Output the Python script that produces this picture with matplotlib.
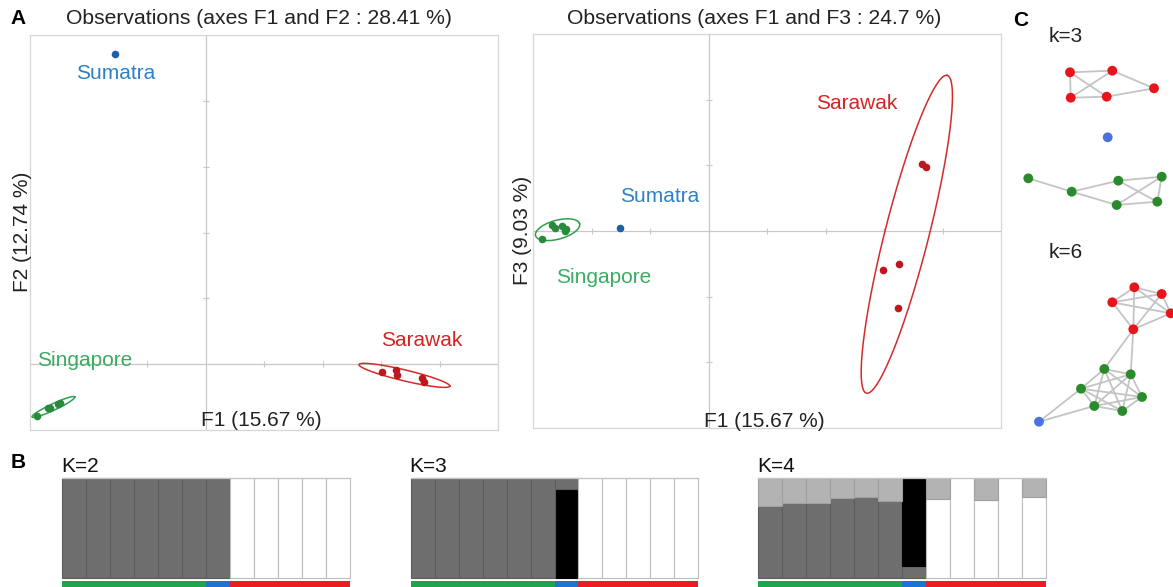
import numpy as np
import matplotlib
matplotlib.use("Agg")
import matplotlib.pyplot as plt

plt.rcParams['font.family'] = ['Liberation Sans', 'DejaVu Sans']

W, H = 1173, 587

# ---------------- DATA ----------------
# PCA panel 1 (F1 vs F2)
p1_sing_x = [-2.88, -2.69, -2.66, -2.52, -2.49]
p1_sing_y = [-0.79, -0.67, -0.66, -0.61, -0.59]
p1_sum_x = [-1.55]
p1_sum_y = [4.71]
p1_sar_x = [3.02, 3.26, 3.27, 3.70, 3.74]
p1_sar_y = [-0.12, -0.09, -0.17, -0.21, -0.27]
# ellipses: centre, conjugate semi-axis vectors (data units)
p1_sing_ell = dict(c=(-2.60, -0.65), a=(0.365, 0.152), b=(0.022, -0.045))
p1_sar_ell = dict(c=(3.40, -0.17), a=(0.776, -0.164), b=(-0.022, -0.081))

# PCA panel 2 (F1 vs F3)
p2_sing_x = [-2.84, -2.67, -2.62, -2.50, -2.46, -2.44]
p2_sing_y = [-0.12, 0.09, 0.05, 0.08, 0.00, 0.03]
p2_sum_x = [-1.51]
p2_sum_y = [0.04]
p2_sar_x = [3.65, 3.72, 2.99, 3.26, 3.24]
p2_sar_y = [1.02, 0.97, -0.59, -0.50, -1.17]
p2_sing_ell = dict(c=(-2.58, 0.02), a=(0.376, 0.091), b=(0.043, -0.139))
p2_sar_ell = dict(c=(3.39, -0.05), a=(0.69, 2.42), b=(0.364, -0.082))

# STRUCTURE bar data (12 individuals)
populations = ['Singapore'] * 6 + ['Sumatra'] + ['Sarawak'] * 5
k2_dark = [1, 1, 1, 1, 1, 1, 1, 0, 0, 0, 0, 0]
k2_white = [0, 0, 0, 0, 0, 0, 0, 1, 1, 1, 1, 1]
k3_black = [0, 0, 0, 0, 0, 0, 0.89, 0, 0, 0, 0, 0]
k3_dark = [1, 1, 1, 1, 1, 1, 0.11, 0, 0, 0, 0, 0]
k3_white = [0, 0, 0, 0, 0, 0, 0, 1, 1, 1, 1, 1]
k4_dark = [0.724, 0.758, 0.758, 0.808, 0.818, 0.774, 0.125, 0, 0, 0, 0, 0]
k4_black = [0, 0, 0, 0, 0, 0, 0.875, 0, 0, 0, 0, 0]
k4_white = [0, 0, 0, 0, 0, 0, 0, 0.79, 1.0, 0.78, 1.0, 0.81]
k4_light = [0.276, 0.242, 0.242, 0.192, 0.182, 0.226, 0, 0.21, 0, 0.22, 0, 0.19]

# Network layouts (layout units)
k3_nodes_x = [50, 92.3, 50.7, 86.7, 134, 87.7, 8.3, 51.7, 98.3, 141.7, 96.7, 137.3]
k3_nodes_y = [357.7, 359.3, 332.3, 333.3, 341.7, 292.7, 251.7, 238.3, 249.3, 253.3, 225, 228.3]
k3_nodes_pop = ['Sarawak'] * 5 + ['Sumatra'] + ['Singapore'] * 6
k3_edges = [(0, 1), (0, 2), (2, 3), (0, 3), (2, 1), (1, 4), (3, 4),
            (6, 7), (7, 8), (7, 10), (8, 9), (8, 11), (10, 9), (9, 11), (10, 11)]
k6_nodes_x = [114.3, 141.7, 92.3, 150.7, 113.3, 84.3, 110.7, 61, 122, 74.3, 102.3, 19]
k6_nodes_y = [142.7, 136, 127.7, 116.7, 100.7, 61, 55.7, 41.3, 33, 24, 19, 8.3]
k6_nodes_pop = ['Sarawak'] * 5 + ['Singapore'] * 6 + ['Sumatra']
k6_edges = ([(i, j) for i in range(5) for j in range(i + 1, 5)] +
            [(4, 5), (4, 6)] +
            [(i, j) for i in range(5, 11) for j in range(i + 1, 11)] +
            [(11, 7), (11, 9)])

# ---------------- STYLE ----------------
pt_col = {'Singapore': '#2a8a3c', 'Sumatra': '#1f5fa8', 'Sarawak': '#c0161e'}
txt_col = {'Singapore': '#3aad62', 'Sumatra': '#2f80c4', 'Sarawak': '#d42424'}
ell_col = {'Singapore': '#2ca050', 'Sarawak': '#d42a2a'}
strip_col = {'Singapore': '#1aa64a', 'Sumatra': '#1c75d0', 'Sarawak': '#ec1c24'}
node_col = {'Singapore': '#2b8a2b', 'Sumatra': '#4a72e0', 'Sarawak': '#e8141c'}
clu_col = {'dark': '#6e6e6e', 'light': '#b3b3b3', 'black': '#000000', 'white': '#ffffff'}
clu_edge = {'dark': '#5c5c5c', 'light': '#a0a0a0', 'black': '#000000', 'white': '#bdbdbd'}

fig = plt.figure(figsize=(W / 100, H / 100), dpi=100)


def ax_px(x0, y0, x1, y1):
    return fig.add_axes([x0 / W, 1 - y1 / H, (x1 - x0) / W, (y1 - y0) / H])


def ftext(x, y, s, **kw):
    fig.text(x / W, 1 - y / H, s, **kw)


def ellipse(ax, e, color):
    t = np.linspace(0, 2 * np.pi, 300)
    cx, cy = e['c']
    ax_, ay_ = e['a']
    bx, by = e['b']
    ax.plot(cx + np.cos(t) * ax_ + np.sin(t) * bx,
            cy + np.cos(t) * ay_ + np.sin(t) * by, color=color, lw=1.1, zorder=3)


def pca_axes(ax, xlim, ylim, xt, yt):
    ax.set_xlim(*xlim)
    ax.set_ylim(*ylim)
    ax.set_xticks([])
    ax.set_yticks([])
    for s in ax.spines.values():
        s.set_color('#d6d6d6')
        s.set_linewidth(0.9)
    ax.axhline(0, color='#c8c8c8', lw=0.9, zorder=1)
    ax.axvline(0, color='#c8c8c8', lw=0.9, zorder=1)
    ax.plot(xt, [0] * len(xt), ls='none', marker='|', ms=4, color='#c8c8c8', mew=0.8)
    ax.plot([0] * len(yt), yt, ls='none', marker='_', ms=4, color='#c8c8c8', mew=0.8)


# ---------------- PANEL A1 ----------------
ax1 = ax_px(30, 35, 498, 430)
pca_axes(ax1, (-3, 5), (-1, 5), [-2, -1, 1, 2, 3, 4], [1, 2, 3, 4])
ax1.scatter(p1_sing_x, p1_sing_y, s=20, color=pt_col['Singapore'], zorder=4)
ax1.scatter(p1_sum_x, p1_sum_y, s=20, color=pt_col['Sumatra'], zorder=4)
ax1.scatter(p1_sar_x, p1_sar_y, s=20, color=pt_col['Sarawak'], zorder=4)
ellipse(ax1, p1_sing_ell, ell_col['Singapore'])
ellipse(ax1, p1_sar_ell, ell_col['Sarawak'])
ax1.text(-2.21, 4.41, 'Sumatra', color=txt_col['Sumatra'], fontsize=15, va='center')
ax1.text(-2.88, 0.05, 'Singapore', color=txt_col['Singapore'], fontsize=15, va='center')
ax1.text(3.0, 0.36, 'Sarawak', color=txt_col['Sarawak'], fontsize=15, va='center')
ax1.text(-0.07, 0.023, 'F1 (15.67 %)', transform=ax1.get_xaxis_transform(),
         fontsize=15, va='center', ha='left', color='#222222')
ftext(259, 18, 'Observations (axes F1 and F2 : 28.41 %)', fontsize=15.2, ha='center', va='center', color='#222222')
ftext(23, 232, 'F2 (12.74 %)', fontsize=15, ha='center', va='center', rotation=90, color='#222222')

# ---------------- PANEL A2 ----------------
ax2 = ax_px(533, 34, 1001, 428)
pca_axes(ax2, (-3, 5), (-3, 3), [-2, -1, 1, 2, 3, 4], [-2, -1, 1, 2])
ax2.scatter(p2_sing_x, p2_sing_y, s=20, color=pt_col['Singapore'], zorder=4)
ax2.scatter(p2_sum_x, p2_sum_y, s=20, color=pt_col['Sumatra'], zorder=4)
ax2.scatter(p2_sar_x, p2_sar_y, s=20, color=pt_col['Sarawak'], zorder=4)
ellipse(ax2, p2_sing_ell, ell_col['Singapore'])
ellipse(ax2, p2_sar_ell, ell_col['Sarawak'])
ax2.text(-1.52, 0.53, 'Sumatra', color=txt_col['Sumatra'], fontsize=15, va='center')
ax2.text(-2.6, -0.71, 'Singapore', color=txt_col['Singapore'], fontsize=15, va='center')
ax2.text(1.83, 1.94, 'Sarawak', color=txt_col['Sarawak'], fontsize=15, va='center')
ax2.text(-0.07, 0.016, 'F1 (15.67 %)', transform=ax2.get_xaxis_transform(),
         fontsize=15, va='center', ha='left', color='#222222')
ftext(754, 18, 'Observations (axes F1 and F3 : 24.7 %)', fontsize=15.2, ha='center', va='center', color='#222222')
ftext(523, 230, 'F3 (9.03 %)', fontsize=15, ha='center', va='center', rotation=90, color='#222222')

# ---------------- PANEL B ----------------
def structure(x0, x1, label, layers):
    ax = ax_px(x0, 477.8, x1, 587)
    n = len(populations)
    xs = np.arange(n)
    bottom = np.zeros(n)
    for name, vals in layers:
        vals = np.asarray(vals, dtype=float)
        m = vals > 0
        ax.bar(xs[m], vals[m], bottom=bottom[m], width=1.0, color=clu_col[name],
               edgecolor=clu_edge[name], linewidth=0.8, zorder=2, clip_on=False)
        bottom = bottom + vals
    ax.plot([-0.5, n - 0.5], [1, 1], color='#c4c4c4', lw=0.9, zorder=4, clip_on=False)
    ax.bar(xs, [0.063] * n, bottom=-0.087, width=1.0,
           color=[strip_col[p] for p in populations], edgecolor='none', zorder=2)
    ax.set_xlim(-0.5, n - 0.5)
    ax.set_ylim(-0.087, 1.005)
    ax.axis('off')
    ftext(x0 - 1, 467, label, fontsize=15, ha='left', va='center', color='#111111')


structure(62.3, 350, 'K=2', [('dark', k2_dark), ('white', k2_white)])
structure(410.7, 698.3, 'K=3', [('black', k3_black), ('dark', k3_dark), ('white', k3_white)])
structure(758.3, 1046, 'K=4', [('dark', k4_dark), ('black', k4_black), ('white', k4_white), ('light', k4_light)])

# ---------------- PANEL C ----------------
axc = ax_px(1020, 60, 1173, 430)
axc.set_xlim(0, 153)
axc.set_ylim(0, 370)
axc.axis('off')


def network(xs, ys, pops, edges):
    for i, j in edges:
        axc.plot([xs[i], xs[j]], [ys[i], ys[j]], color='#c4c4c4', lw=1.3, zorder=1, clip_on=False)
    axc.scatter(xs, ys, s=50, color=[node_col[p] for p in pops], zorder=3,
                edgecolors='none', clip_on=False)


network(k3_nodes_x, k3_nodes_y, k3_nodes_pop, k3_edges)
network(k6_nodes_x, k6_nodes_y, k6_nodes_pop, k6_edges)
ftext(1066, 37, 'k=3', fontsize=15, ha='center', va='center', color='#222222')
ftext(1066, 252, 'k=6', fontsize=15, ha='center', va='center', color='#222222')

# panel letters
ftext(18, 18, 'A', fontsize=15, fontweight='bold', ha='center', va='center')
ftext(18, 463, 'B', fontsize=15, fontweight='bold', ha='center', va='center')
ftext(1021, 20, 'C', fontsize=15, fontweight='bold', ha='center', va='center')

fig.savefig('out.png', dpi=100)
